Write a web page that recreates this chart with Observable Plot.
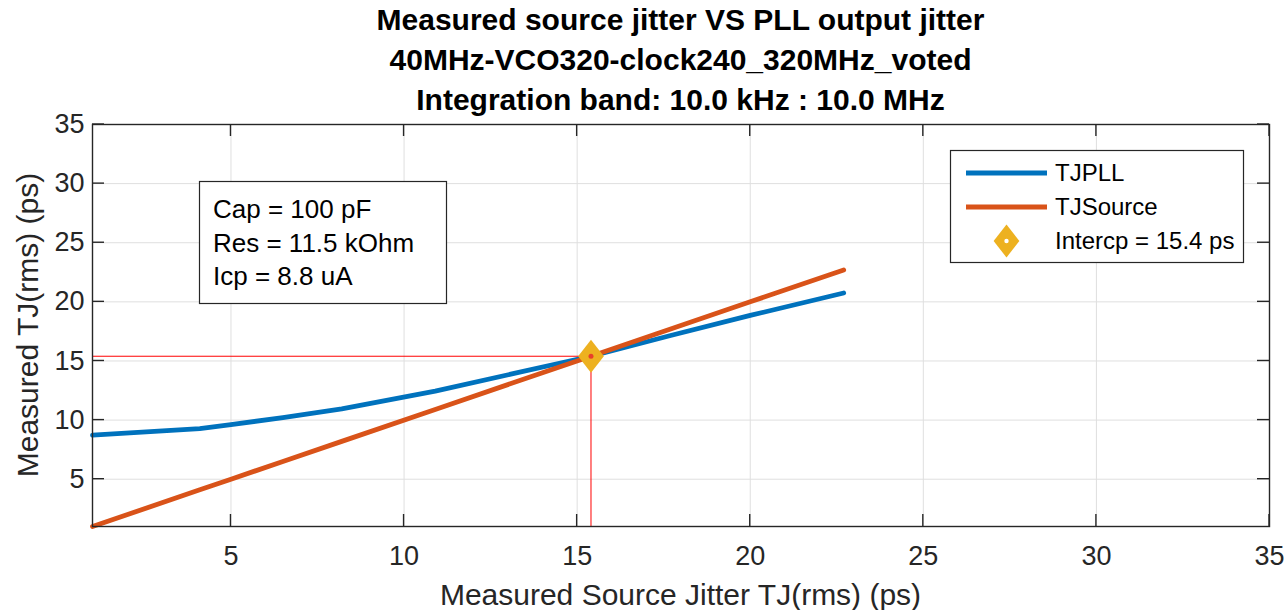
<!DOCTYPE html>
<html><head><meta charset="utf-8">
<script src="https://cdn.jsdelivr.net/npm/d3@7"></script>
<script src="https://cdn.jsdelivr.net/npm/@observablehq/plot@0.6"></script>
<style>
html,body{margin:0;padding:0;background:#fff;}
#fig{position:relative;width:1287px;height:610px;overflow:hidden;font-family:"Liberation Sans",Arial,sans-serif;background:#fff;}
#title{position:absolute;left:92px;width:1177px;top:0;text-align:center;font-weight:bold;font-size:30px;line-height:40px;color:#000;z-index:2;}
#chart{position:absolute;left:0;top:96px;z-index:1;}
</style></head><body>
<div id="fig"><div id="title"></div><div id="chart"></div></div>
<script>
// ---- data ----
const titleLines = [
  "Measured source jitter VS PLL output jitter",
  "40MHz-VCO320-clock240_320MHz_voted",
  "Integration band: 10.0 kHz : 10.0 MHz"
];
const sourceJitter = [1, 4.1, 5, 6.5, 8.2, 10.9, 15.4, 17.7, 20, 22.7];
const tjPLL        = [8.72, 9.28, 9.62, 10.2, 10.95, 12.45, 15.4, 17.15, 18.85, 20.75];
const tjSource     = [1, 4.1, 5, 6.5, 8.2, 10.9, 15.4, 17.7, 20, 22.7];
const interceptX = 15.4;
const interceptY = 15.4;
const xTicks = [5, 10, 15, 20, 25, 30, 35];
const yTicks = [5, 10, 15, 20, 25, 30, 35];
const xDomain = [1, 35];
const yDomain = [1, 35];
const seriesNames = ["TJPLL", "TJSource", "Intercp = 15.4 ps"];
const infoLines = ["Cap = 100 pF", "Res = 11.5 kOhm", "Icp = 8.8 uA"];
const xLabel = "Measured Source Jitter TJ(rms) (ps)";
const yLabel = "Measured TJ(rms) (ps)";

// ---- styles ----
const C_PLL = "#0072BD", C_SRC = "#D95319", C_MARK = "#EDB120", C_REF = "#FF0000";
const AX = "#262626", GRID = "#dfdfdf";
const FONT = "Liberation Sans, Arial, sans-serif";
const TOP = 96; // page offset of the svg

document.getElementById("title").innerHTML = titleLines.map(t => `<div>${t}</div>`).join("");

const pllData = sourceJitter.map((x, i) => ({x, y: tjPLL[i]}));
const srcData = sourceJitter.map((x, i) => ({x, y: tjSource[i]}));
const interceptData = [{x: interceptX, y: interceptY}];

const matlabDiamond = {
  draw(ctx, size) {
    const r = Math.sqrt(size / Math.PI), w = r * 0.78;
    ctx.moveTo(0, -r); ctx.lineTo(w, 0); ctx.lineTo(0, r); ctx.lineTo(-w, 0); ctx.closePath();
  }
};

const W = 1287, H = 610 - TOP;
const chart = Plot.plot({
  width: W, height: H,
  marginTop: 124 - TOP, marginLeft: 92, marginRight: 18, marginBottom: H - (526 - TOP),
  x: {domain: xDomain, ticks: xTicks},
  y: {domain: yDomain, ticks: yTicks},
  style: {fontFamily: FONT, fontSize: "27px", color: AX, background: "transparent"},
  marks: [
    Plot.gridX(xTicks, {stroke: GRID, strokeOpacity: 1, strokeWidth: 1}),
    Plot.gridY(yTicks, {stroke: GRID, strokeOpacity: 1, strokeWidth: 1}),
    Plot.axisX(xTicks, {tickSize: 0, tickPadding: 19, label: null, fontSize: 27, fill: AX}),
    Plot.axisY(yTicks, {tickSize: 0, tickPadding: 8, label: null, fontSize: 27, fill: AX}),
    Plot.line(pllData, {x: "x", y: "y", stroke: C_PLL, strokeWidth: 4.8, strokeLinejoin: "round"}),
    Plot.line(srcData, {x: "x", y: "y", stroke: C_SRC, strokeWidth: 4.8, strokeLinejoin: "round"}),
    Plot.ruleY(interceptData, {y: "y", x1: xDomain[0], x2: "x", stroke: C_REF, strokeWidth: 1}),
    Plot.ruleX(interceptData, {x: "x", y1: yDomain[0], y2: "y", stroke: C_REF, strokeWidth: 1}),
    Plot.dot(interceptData, {x: "x", y: "y", r: 16.5, symbol: matlabDiamond, fill: C_MARK, stroke: "none"}),
    Plot.dot(interceptData, {x: "x", y: "y", r: 2.5, fill: "#e8402a", stroke: "none"}),
    Plot.frame({stroke: AX, strokeWidth: 1.4})
  ]
});
document.getElementById("chart").appendChild(chart);

const svg = d3.select(chart);
const sx = chart.scale("x"), sy = chart.scale("y");
const X0 = sx.apply(xDomain[0]), X1 = sx.apply(xDomain[1]);
const Y0 = sy.apply(yDomain[0]), Y1 = sy.apply(yDomain[1]);
const TL = 12;
const py = v => v - TOP; // page y -> svg y

// inward ticks on all four sides
const tg = svg.append("g").attr("stroke", AX).attr("stroke-width", 1.4);
xTicks.forEach(t => {
  const X = sx.apply(t);
  tg.append("line").attr("x1", X).attr("x2", X).attr("y1", Y0).attr("y2", Y0 - TL);
  tg.append("line").attr("x1", X).attr("x2", X).attr("y1", Y1).attr("y2", Y1 + TL);
});
yTicks.forEach(t => {
  const Y = sy.apply(t);
  tg.append("line").attr("x1", X0).attr("x2", X0 + TL).attr("y1", Y).attr("y2", Y);
  tg.append("line").attr("x1", X1).attr("x2", X1 - TL).attr("y1", Y).attr("y2", Y);
});

// axis labels
svg.append("text").attr("x", (X0 + X1) / 2).attr("y", py(594)).attr("dy", "0.35em")
  .attr("text-anchor", "middle").attr("font-family", FONT).attr("font-size", 30).attr("fill", AX).text(xLabel);
svg.append("text").attr("transform", `translate(27,${(Y0 + Y1) / 2}) rotate(-90)`).attr("dy", "0.35em")
  .attr("text-anchor", "middle").attr("font-family", FONT).attr("font-size", 30).attr("fill", AX).text(yLabel);

// info box
const ib = svg.append("g");
ib.append("rect").attr("x", 199.5).attr("y", py(181.5)).attr("width", 247).attr("height", 122)
  .attr("fill", "white").attr("stroke", AX).attr("stroke-width", 1.2);
infoLines.forEach((t, i) => {
  ib.append("text").attr("x", 213).attr("y", py(209 + i * 33.5)).attr("dy", "0.35em")
    .attr("text-anchor", "start").attr("font-family", FONT).attr("font-size", 26).attr("fill", "#000").text(t);
});

// legend
const lg = svg.append("g");
lg.append("rect").attr("x", 950.5).attr("y", py(150.5)).attr("width", 293).attr("height", 112)
  .attr("fill", "white").attr("stroke", AX).attr("stroke-width", 1.2);
const rowY = [173, 207, 241].map(py);
lg.append("line").attr("x1", 966).attr("x2", 1047).attr("y1", rowY[0]).attr("y2", rowY[0]).attr("stroke", C_PLL).attr("stroke-width", 4.8);
lg.append("line").attr("x1", 966).attr("x2", 1047).attr("y1", rowY[1]).attr("y2", rowY[1]).attr("stroke", C_SRC).attr("stroke-width", 4.8);
lg.append("path").attr("transform", `translate(1006.5,${rowY[2]})`)
  .attr("d", d3.symbol(matlabDiamond, 16.5 * 16.5 * Math.PI)()).attr("fill", C_MARK);
lg.append("circle").attr("cx", 1006.5).attr("cy", rowY[2]).attr("r", 2.2).attr("fill", "white");
seriesNames.forEach((t, i) => {
  lg.append("text").attr("x", 1055).attr("y", rowY[i]).attr("dy", "0.35em")
    .attr("text-anchor", "start").attr("font-family", FONT).attr("font-size", 24).attr("fill", "#000").text(t);
});
</script>
</body></html>
